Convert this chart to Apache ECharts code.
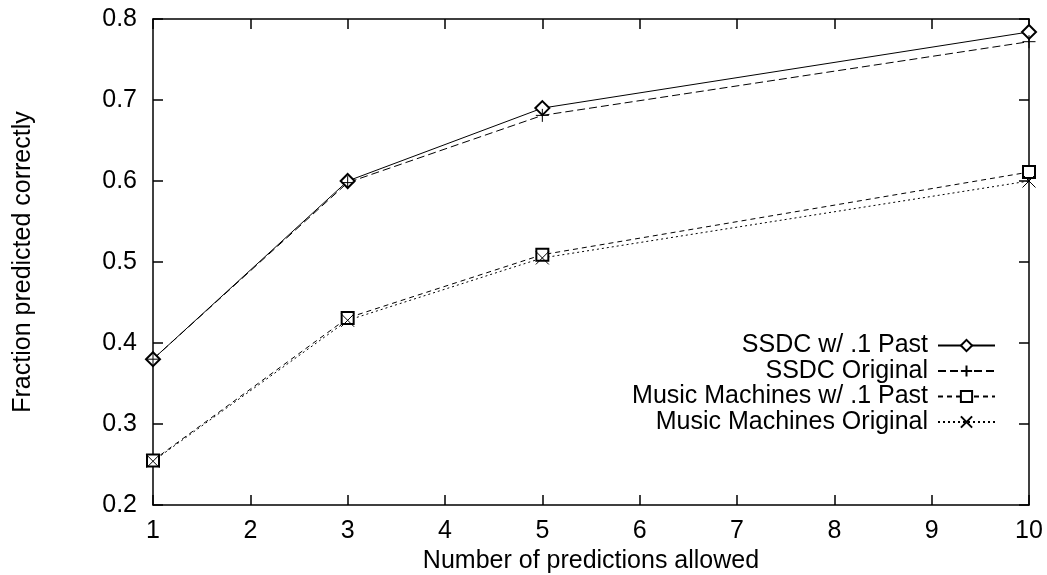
<!DOCTYPE html>
<html><head><meta charset="utf-8">
<script src="https://cdn.jsdelivr.net/npm/echarts@6/dist/echarts.min.js"></script>
<style>html,body{margin:0;padding:0;background:#fff}#c{width:1047px;height:575px}</style>
</head><body><div id="c"></div>
<script>
const xValues = [1, 3, 5, 10];
const ssdcPast = [0.380, 0.600, 0.690, 0.784];
const ssdcOriginal = [0.380, 0.598, 0.681, 0.772];
const mmPast = [0.255, 0.431, 0.509, 0.611];
const mmOriginal = [0.254, 0.428, 0.505, 0.600];
const seriesNames = ['SSDC w/ .1 Past', 'SSDC Original', 'Music Machines w/ .1 Past', 'Music Machines Original'];
const xTitle = 'Number of predictions allowed';
const yTitle = 'Fraction predicted correctly';

const FONT = 'Liberation Sans, Arial, sans-serif';
const FS = 25;
const plusPath = 'path://M0,5L10,5M5,0L5,10';
const crossPath = 'path://M0,0L10,10M10,0L0,10';

function pairs(vals){ return xValues.map((x,i)=>[x, vals[i]]); }
function mk(name, vals, dash, symbol, size){
  return {
    name, type:'line', data: pairs(vals), xAxisIndex:0, yAxisIndex:0,
    symbol, symbolSize:size, showSymbol:true,
    lineStyle:{color:'#000', width:1, type:dash},
    itemStyle:{color: symbol.startsWith('path') ? '#fff' : '#000', borderColor:'#000', borderWidth:1},
    emphasis:{disabled:true}, animation:false, z:3
  };
}
const axisCommon = {
  axisLine:{show:true, lineStyle:{color:'#000', width:1.5}},
  axisTick:{show:true, inside:true, length:10, lineStyle:{color:'#000', width:1.5}},
  splitLine:{show:false}
};
const chart = echarts.init(document.getElementById('c'), null, {renderer:'canvas'});
chart.setOption({
  animation:false,
  backgroundColor:'#fff',
  grid:{left:153, right:18, top:19, bottom:70, outerBoundsMode:'none', containLabel:false},
  legend:{
    orient:'vertical', right:46, top:328, align:'right',
    itemWidth:57, itemHeight:14, itemGap:0.5,
    textStyle:{fontFamily:FONT, fontSize:FS, lineHeight:25, color:'#000', padding:[0,5,0,0]},
    data: seriesNames, selectedMode:false
  },
  xAxis:[
    Object.assign({type:'value', min:1, max:10, interval:1, position:'bottom',
      name:xTitle, nameLocation:'middle', nameGap:40,
      nameTextStyle:{fontFamily:FONT, fontSize:FS, color:'#000'},
      axisLabel:{fontFamily:FONT, fontSize:FS, color:'#000', margin:14}}, axisCommon),
    Object.assign({type:'value', min:1, max:10, interval:1, position:'top',
      axisLabel:{show:false}}, axisCommon)
  ],
  yAxis:[
    Object.assign({type:'value', min:0.2, max:0.8, interval:0.1, position:'left',
      name:yTitle, nameLocation:'middle', nameGap:117, nameRotate:90,
      nameTextStyle:{fontFamily:FONT, fontSize:FS, color:'#000'},
      axisLabel:{fontFamily:FONT, fontSize:FS, color:'#000', margin:16, formatter:v=>v.toFixed(1)}}, axisCommon),
    Object.assign({type:'value', min:0.2, max:0.8, interval:0.1, position:'right',
      axisLabel:{show:false}}, axisCommon)
  ],
  series:[
    mk(seriesNames[0], ssdcPast, 'solid', 'emptyDiamond', 14),
    mk(seriesNames[1], ssdcOriginal, [8,4], plusPath, 13),
    mk(seriesNames[2], mmPast, [5,4], 'emptyRect', 12),
    mk(seriesNames[3], mmOriginal, [2,3], crossPath, 13)
  ]
});
</script></body></html>
